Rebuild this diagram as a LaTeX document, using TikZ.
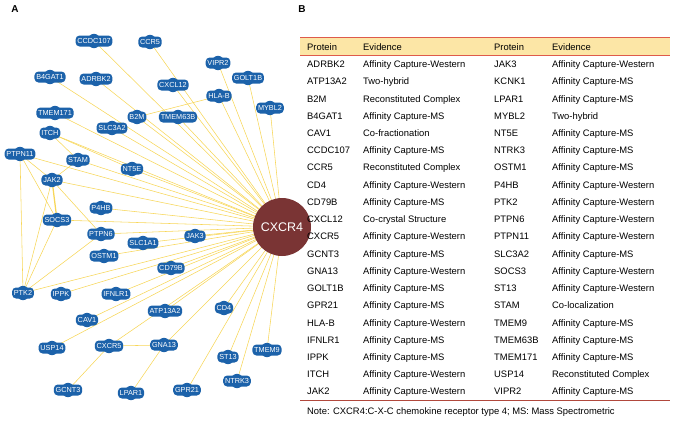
\documentclass[tikz,border=0pt]{standalone}
\usepackage{fontspec}
\setmainfont{Liberation Sans}
\pgfdeclarelayer{edges}
\pgfsetlayers{edges,main}
\definecolor{nodeblue}{RGB}{28,98,170}
\definecolor{hubred}{RGB}{122,52,52}
\definecolor{edgeyellow}{RGB}{247,214,88}
\definecolor{headfill}{RGB}{252,230,166}
\definecolor{rulered}{RGB}{222,90,75}
\begin{document}
\begin{tikzpicture}[x=1pt,y=-1pt,
  pnode/.style={fill=nodeblue,rounded corners=4pt,text=white,inner xsep=1.8pt,inner ysep=1.8pt,
    font=\fontsize{7.3}{7.3}\selectfont,minimum height=11pt},
  hub/.style={circle,fill=hubred,text=white,minimum size=58pt,inner sep=0pt,font=\fontsize{12.5}{12.5}\selectfont},
  edge/.style={draw=edgeyellow,line width=0.55pt},
  tabtext/.style={anchor=base west,inner sep=0pt,font=\fontsize{9.4}{9.4}\selectfont},
  panel/.style={font=\bfseries\fontsize{10}{10}\selectfont,inner sep=0pt}]
\useasboundingbox (0,0) rectangle (677,423);
\node[panel] (labA) at (15,9) {A};
\node[panel] (labB) at (302,9) {B};
% hub
\node[hub] (CXCR4) at (282,227) {CXCR4};
% protein nodes
\foreach \n/\x/\y in {CCDC107/94/41, CCR5/150/42, VIPR2/218/63, GOLT1B/248/78,
  B4GAT1/50/77, ADRBK2/96/79, CXCL12/173/85, HLA-B/219/96, MYBL2/270/108,
  TMEM171/55/113, B2M/137/117, TMEM63B/178/117, ITCH/50/133, SLC3A2/112/128,
  PTPN11/20/154, STAM/78/160, NT5E/132/169, JAK2/52/180, P4HB/101/208,
  SOCS3/57/220, PTPN6/101/234, SLC1A1/143/243, JAK3/195/236, OSTM1/104/256,
  CD79B/171/268, PTK2/23/293, IPPK/61/294, IFNLR1/116/294, CAV1/87/320,
  ATP13A2/165/311, CD4/224/308, USP14/52/348, CXCR5/109/346, GNA13/164/345,
  TMEM9/267/350, ST13/228/357, NTRK3/237/381, GCNT3/68/390, LPAR1/131/393,
  GPR21/187/390}{
  \fill[nodeblue] (\x,\y) ellipse (6.5pt and 7.2pt);
  \node[pnode] (\n) at (\x,\y) {\n};
}
\begin{pgfonlayer}{edges}
\foreach \n in {CCDC107, CCR5, VIPR2, GOLT1B, B4GAT1, ADRBK2, CXCL12, HLA-B, MYBL2,
  TMEM171, B2M, TMEM63B, ITCH, SLC3A2, PTPN11, STAM, NT5E, JAK2, P4HB,
  SOCS3, PTPN6, SLC1A1, JAK3, OSTM1, CD79B, PTK2, IPPK, IFNLR1, CAV1,
  ATP13A2, CD4, USP14, CXCR5, GNA13, TMEM9, ST13, NTRK3, GPR21}{
  \draw[edge] (CXCR4.center) -- (\n.center);
}
\foreach \a/\b in {HLA-B/B2M, ITCH/STAM, ITCH/NT5E, PTPN11/JAK2, PTPN11/SOCS3, PTPN11/PTK2,
  JAK2/STAM, JAK2/PTK2, JAK2/PTPN6, SOCS3/PTK2, PTK2/PTPN6, CXCR5/GNA13,
  CXCR5/GCNT3, LPAR1/GNA13}{
  \draw[edge] (\a.center) -- (\b.center);
}
\draw[edge,line width=1.3pt] (JAK2.center) -- (SOCS3.center);
\end{pgfonlayer}
% table
\coordinate (tl) at (300,37);
\coordinate (tr) at (670,55);
\fill[headfill] (tl) rectangle (tr);
\draw[rulered,line width=0.8pt] (300,37) -- (670,37);
\draw[rulered,line width=0.8pt] (300,55) -- (670,55);
\draw[rulered!80!black,line width=0.6pt] (300,400) -- (670,400);
\node[tabtext] (h1) at (307,50) {Protein};
\node[tabtext] (h2) at (363,50) {Evidence};
\node[tabtext] (h3) at (494,50) {Protein};
\node[tabtext] (h4) at (552,50) {Evidence};
\foreach \p/\e [count=\i from 0] in {ADRBK2/Affinity Capture-Western, ATP13A2/Two-hybrid,
  B2M/Reconstituted Complex, B4GAT1/Affinity Capture-MS, CAV1/Co-fractionation,
  CCDC107/Affinity Capture-MS, CCR5/Reconstituted Complex, CD4/Affinity Capture-Western,
  CD79B/Affinity Capture-MS, CXCL12/Co-crystal Structure, CXCR5/Affinity Capture-Western,
  GCNT3/Affinity Capture-MS, GNA13/Affinity Capture-Western, GOLT1B/Affinity Capture-MS,
  GPR21/Affinity Capture-MS, HLA-B/Affinity Capture-Western, IFNLR1/Affinity Capture-MS,
  IPPK/Affinity Capture-MS, ITCH/Affinity Capture-Western, JAK2/Affinity Capture-Western}{
  \node[tabtext] (lp\i) at (307,{67.6+17.23*\i}) {\p};
  \node[tabtext] (le\i) at (363,{67.6+17.23*\i}) {\e};
}
\foreach \p/\e [count=\i from 0] in {JAK3/Affinity Capture-Western, KCNK1/Affinity Capture-MS,
  LPAR1/Affinity Capture-MS, MYBL2/Two-hybrid, NT5E/Affinity Capture-MS,
  NTRK3/Affinity Capture-MS, OSTM1/Affinity Capture-MS, P4HB/Affinity Capture-Western,
  PTK2/Affinity Capture-Western, PTPN6/Affinity Capture-Western, PTPN11/Affinity Capture-Western,
  SLC3A2/Affinity Capture-MS, SOCS3/Affinity Capture-Western, ST13/Affinity Capture-Western,
  STAM/Co-localization, TMEM9/Affinity Capture-MS, TMEM63B/Affinity Capture-MS,
  TMEM171/Affinity Capture-MS, USP14/Reconstituted Complex, VIPR2/Affinity Capture-MS}{
  \node[tabtext] (rp\i) at (494,{67.6+17.23*\i}) {\p};
  \node[tabtext] (re\i) at (552,{67.6+17.23*\i}) {\e};
}
\node[tabtext] (note) at (307,414) {Note: CXCR4:C-X-C chemokine receptor type 4; MS: Mass Spectrometric};
\end{tikzpicture}
\end{document}
